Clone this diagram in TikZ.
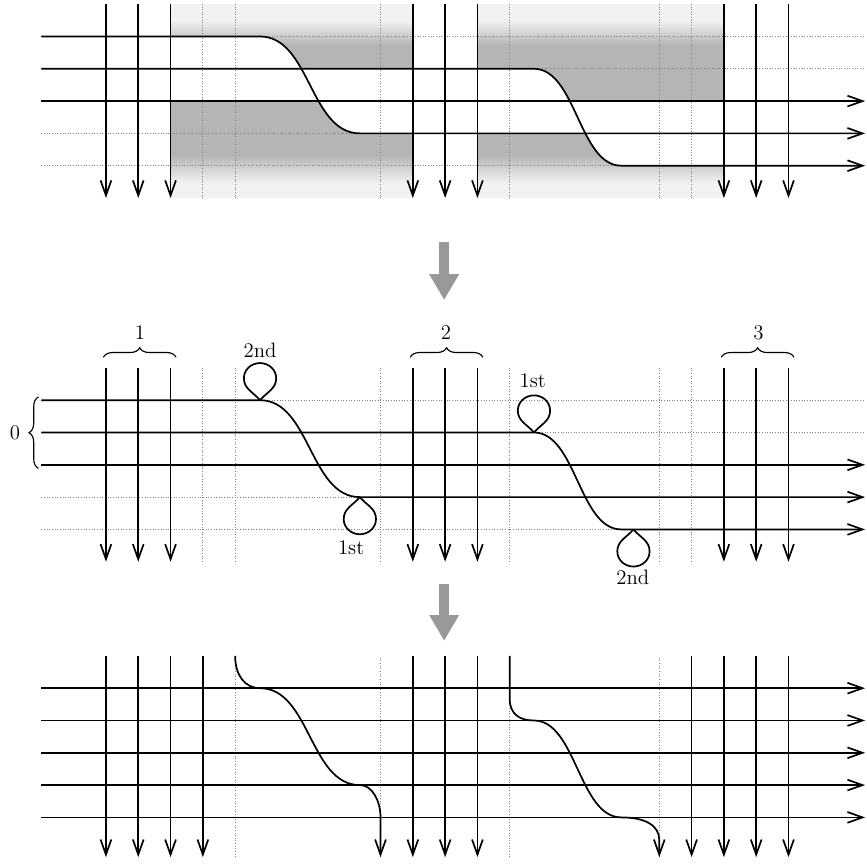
\documentclass[tikz,border=0pt]{standalone}
\usetikzlibrary{arrows.meta,decorations.pathreplacing,positioning}

\begin{document}
\begin{tikzpicture}
        [x=0.6cm,y=0.6cm,every node/.style={inner sep=0pt,font=\fontsize{11}{13}\selectfont},
         wire/.style={line width=0.9pt,-{Straight Barb[length=2.8mm,width=2mm]}},
         loopy/.style={line width=0.9pt},
         guide/.style={gray,thin,densely dotted},
         bracy/.style={semithick,decorate,decoration={brace,amplitude=5pt}},
         bigarrow/.style={black!40,line width=5.6pt,-{Triangle[length=4.8mm,width=5.2mm]}}]
      \useasboundingbox (-3.28,0) rectangle (23.56,26.72);

      % top
      \begin{scope}[shift={(0,21.59)}]
        \foreach \xa/\xb/\ya/\cs/\ce/\d in {2/9.5/4/4.77/7.86/1.55, 11.5/19.13/3/13.25/15.95/1.3} {
          \fill[black!5] (\xa,-1) rectangle (\xb,5);
          \shade[top color=black!5,bottom color=black!29] (\xa,3.74) rectangle (\xb,4.51);
          \fill[black!29] (\xa,0.33) rectangle (\xb,3.74);
          \shade[top color=black!29,bottom color=black!5] (\xa,-0.54) rectangle (\xb,0.33);
          \fill[white] (\xa,\ya-2) rectangle (\xb,\ya-1);
          \begin{scope}
            \clip (\xa,\ya-2) rectangle (\xb,5);
            \fill[white] (\xa,\ya) -- (\cs,\ya) .. controls (\cs+\d,\ya) and (\ce-\d,\ya-3) .. (\ce,\ya-3)
              -- (\xb,\ya-3) -- (\xb,-1) -- (\xa,-1) -- cycle;
          \end{scope}
          \begin{scope}
            \clip (\xa,-1) rectangle (\xb,\ya-1);
            \fill[white] (\xa,\ya) -- (\cs,\ya) .. controls (\cs+\d,\ya) and (\ce-\d,\ya-3) .. (\ce,\ya-3)
              -- (\xb,\ya-3) -- (\xb,5) -- (\xa,5) -- cycle;
          \end{scope}
        }
        \foreach \x in {3,4,8.5,12.5,17.13,18.13}
          \draw[guide] (\x,-1) -- (\x,5);
        \foreach \y in {0,...,4}
          \draw[guide] (-2,\y) -- (23.5,\y);
        \draw[wire] (-2,4) -- (4.77,4) .. controls (6.32,4) and (6.31,1) .. (7.86,1) -- (23.5,1);
        \draw[wire] (-2,3) -- (13.25,3) .. controls (14.55,3) and (14.65,0) .. (15.95,0) -- (23.5,0);
        \draw[wire] (-2,2) -- (23.5,2);
        \foreach \x in {0,1,2,9.5,10.5,11.5,19.13,20.13,21.13}
          \draw[wire] (\x,5) -- (\x,-1);
      \end{scope}

      \coordinate (a1) at (10.47,19.22);
      \coordinate (a2) at (10.47,17.43);
      \draw[bigarrow] (a1) -- (a2);

      % middle
      \begin{scope}[shift={(0,10.33)}]
        \foreach \x in {3,4,8.5,12.5,17.13,18.13}
          \draw[guide] (\x,-1) -- (\x,5);
        \foreach \y in {0,...,4}
          \draw[guide] (-2,\y) -- (23.5,\y);
        \coordinate (k1) at (4.77,4);
        \coordinate (k2) at (7.86,1);
        \coordinate (k3) at (13.25,3);
        \coordinate (k4) at (16.33,0);
        \draw[wire] (-2,4) -- (k1) .. controls (6.32,4) and (6.31,1) .. (k2) -- (23.5,1);
        \draw[wire] (-2,3) -- (k3) .. controls (14.55,3) and (14.65,0) .. (15.95,0) -- (23.5,0);
        \draw[wire] (-2,2) -- (23.5,2);
        \foreach \x in {0,1,2,9.5,10.5,11.5,19.13,20.13,21.13}
          \draw[wire] (\x,5) -- (\x,-1);
        \foreach \k in {k1,k3}
          \draw[loopy] (\k) to[out=130,in=270] ++(-0.5,0.68) to[out=90,in=180] ++(0.5,0.47)
            to[out=0,in=90] ++(0.5,-0.47) to[out=270,in=50] ++(-0.5,-0.68);
        \foreach \k in {k2,k4}
          \draw[loopy] (\k) to[out=230,in=90] ++(-0.5,-0.68) to[out=270,in=180] ++(0.5,-0.47)
            to[out=0,in=270] ++(0.5,0.47) to[out=90,in=310] ++(-0.5,0.68);
        \node (s1) at (4.77,5.53) {2nd};
        \node (s2) at (7.59,-0.56) {1st};
        \node (s3) at (13.21,4.61) {1st};
        \node (s4) at (16.31,-1.49) {2nd};
        \draw[bracy] (-0.08,5.33) -- (2.17,5.33);
        \draw[bracy] (9.42,5.33) -- (11.67,5.33);
        \draw[bracy] (19.05,5.33) -- (21.3,5.33);
        \draw[bracy] (-2.09,1.89) -- (-2.09,4.1);
        \node (g1) at (1.05,6.08) {1};
        \node (g2) at (10.53,6.08) {2};
        \node (g3) at (20.2,6.08) {3};
        \node (g0) at (-2.82,3) {0};
      \end{scope}

      \coordinate (b1) at (10.47,8.64);
      \coordinate (b2) at (10.47,6.88);
      \draw[bigarrow] (b1) -- (b2);

      % bottom
      \begin{scope}[shift={(0,1.415)}]
        \foreach \x in {4,8.5,12.5,17.13}
          \draw[guide] (\x,-1.23) -- (\x,5);
        \foreach \y in {0,...,4}
          \draw[wire] (-2,\y) -- (23.5,\y);
        \foreach \x in {0,1,2,3,9.5,10.5,11.5,18.13,19.13,20.13,21.13}
          \draw[wire] (\x,5) -- (\x,-1.23);
        \draw[wire] (4,5) .. controls (4,4.4) and (4.3,4) .. (4.77,4)
          .. controls (6.32,4) and (6.31,1) .. (7.86,1)
          .. controls (8.25,1) and (8.5,0.5) .. (8.5,0) -- (8.5,-1.23);
        \draw[wire] (12.5,5) -- (12.5,3.67) .. controls (12.5,3.2) and (12.8,3) .. (13.25,3)
          .. controls (14.55,3) and (14.65,0) .. (15.95,0)
          .. controls (16.7,0) and (17.13,-0.25) .. (17.13,-0.7) -- (17.13,-1.23);
      \end{scope}
    \end{tikzpicture}
\end{document}
